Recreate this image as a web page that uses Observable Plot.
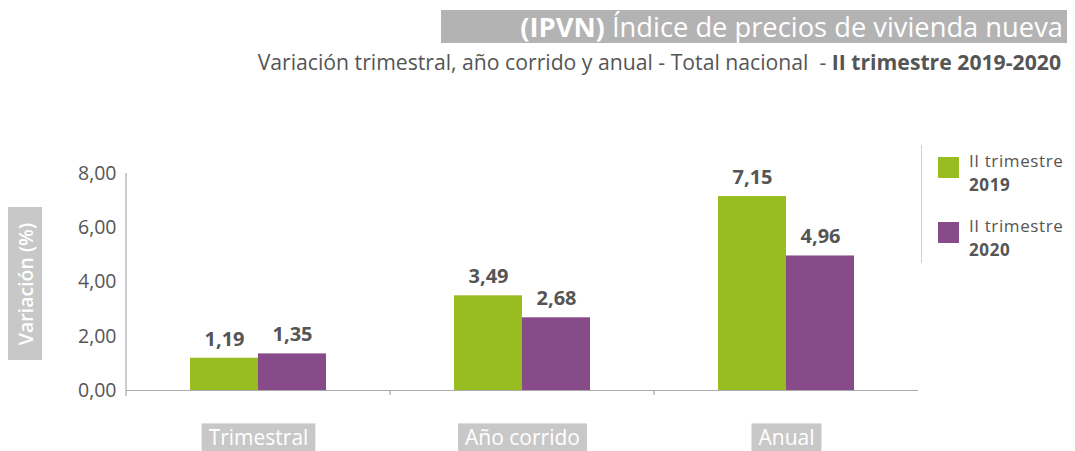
<!DOCTYPE html>
<html>
<head>
<meta charset="utf-8">
<script src="https://cdn.jsdelivr.net/npm/d3@7"></script>
<script src="https://cdn.jsdelivr.net/npm/@observablehq/plot@0.6"></script>
<style>
  html, body { margin: 0; padding: 0; background: #fff; }
  body { width: 1075px; height: 451px; position: relative; overflow: hidden; font-family: "Open Sans", sans-serif; }
  #chart { position: absolute; left: 0; top: 0; }
  .title { position: absolute; left: 441px; top: 10px; width: 626px; height: 33px; background: #b3b3b3; color: #fff;
           font-size: 27.3px; line-height: 33px; text-align: right; box-sizing: border-box; padding-right: 4px; white-space: nowrap; }
  .subtitle { position: absolute; right: 14px; top: 47px; color: #555; font-size: 21.2px; line-height: 29px; white-space: nowrap; }
  .ytitle { position: absolute; left: 8px; top: 207px; width: 34px; height: 153px; background: #c8c8c8; }
  .ytitle span { position: absolute; left: 50%; top: 50%; transform: translate(-50%, -50%) rotate(-90deg); color: #fff;
                 font-size: 19.5px; font-weight: 600; white-space: nowrap; }
  .legend { position: absolute; left: 921px; top: 145px; height: 118px; border-left: 1.5px solid #d0d0d0; }
  .item { position: absolute; left: 16px; width: 150px; color: #555; font-size: 17px; line-height: 23.5px; white-space: nowrap; }
  .sw { position: absolute; left: 0; top: 0; width: 21px; height: 21px; }
  .item .t { position: absolute; left: 31px; top: -8px; letter-spacing: 0.6px; }
</style>
</head>
<body>
<div id="chart"></div>
<div class="title"><b>(IPVN)</b> Índice de precios de vivienda nueva</div>
<div class="subtitle">Variación trimestral, año corrido y anual - Total nacional&nbsp; - <b>II trimestre 2019-2020</b></div>
<div class="ytitle"><span>Variación (%)</span></div>
<div class="legend" id="legend"></div>
<script>
const categories = ["Trimestral", "Año corrido", "Anual"];
const series = ["II trimestre 2019", "II trimestre 2020"];
const values2019 = [1.19, 3.49, 7.15];
const values2020 = [1.35, 2.68, 4.96];
const colors = ["#98bd20", "#884b89"];
const yTicks = [0, 2, 4, 6, 8];

const fmt = v => v.toFixed(2).replace(".", ",");

const data = [];
categories.forEach((c, i) => {
  data.push({cat: c, serie: series[0], value: values2019[i]});
  data.push({cat: c, serie: series[1], value: values2020[i]});
});

const plot = Plot.plot({
  width: 1075,
  height: 451,
  marginLeft: 126,
  marginRight: 157,
  marginTop: 173,
  marginBottom: 61,
  style: {fontFamily: "Open Sans, sans-serif", fontSize: "19.5px", color: "#555", background: "transparent", overflow: "visible"},
  fx: {domain: categories, padding: 0, label: null, tickSize: 0, tickPadding: 40},
  x: {domain: series, paddingInner: 0, paddingOuter: 0.94, axis: null},
  y: {domain: [0, 8], ticks: yTicks, tickFormat: fmt, tickSize: 0, tickPadding: 10, label: null},
  color: {domain: series, range: colors},
  marks: [
    Plot.barY(data, {fx: "cat", x: "serie", y: "value", fill: "serie"}),
    Plot.ruleY([0], {stroke: "#aaa", strokeWidth: 1.2}),
    Plot.text(data, {fx: "cat", x: "serie", y: "value", text: d => fmt(d.value), dy: -19,
                     fontWeight: "bold", fontSize: 20, fill: "#555"})
  ]
});
document.getElementById("chart").appendChild(plot);

// axis lines, separator ticks and label boxes from Plot's scales
const svg = d3.select(plot.tagName.toLowerCase() === "svg" ? plot : plot.querySelector("svg"));
const fx = plot.scale("fx");
const y = plot.scale("y");
const y0 = y.apply(0), yTop = y.apply(8);
const left = fx.apply(categories[0]);
svg.append("line").attr("x1", left).attr("x2", left).attr("y1", yTop).attr("y2", y0 + 6)
  .attr("stroke", "#aaa").attr("stroke-width", 1.2);
categories.slice(1).forEach(c => {
  const xb = fx.apply(c);
  svg.append("line").attr("x1", xb).attr("x2", xb).attr("y1", y0).attr("y2", y0 + 5)
    .attr("stroke", "#aaa").attr("stroke-width", 1.2);
});
svg.selectAll('[aria-label^="fx-axis"] text').each(function() {
  this.setAttribute("fill", "#fff");
  this.setAttribute("font-size", "21px");
  const b = this.getBBox();
  const r = document.createElementNS("http://www.w3.org/2000/svg", "rect");
  r.setAttribute("x", b.x - 7); r.setAttribute("y", b.y);
  r.setAttribute("width", b.width + 14); r.setAttribute("height", b.height + 8);
  r.setAttribute("fill", "#c8c8c8");
  const tr = this.getAttribute("transform");
  if (tr) r.setAttribute("transform", tr);
  this.parentNode.insertBefore(r, this);
});

// legend
const legend = document.getElementById("legend");
series.forEach((s, i) => {
  const it = document.createElement("div");
  it.className = "item";
  it.style.top = (12 + i * 65) + "px";
  const parts = s.split(" ");
  it.innerHTML = `<div class="sw" style="background:${colors[i]}"></div><div class="t">${parts.slice(0, 2).join(" ")}<br><b>${parts[2]}</b></div>`;
  legend.appendChild(it);
});
</script>
</body>
</html>
